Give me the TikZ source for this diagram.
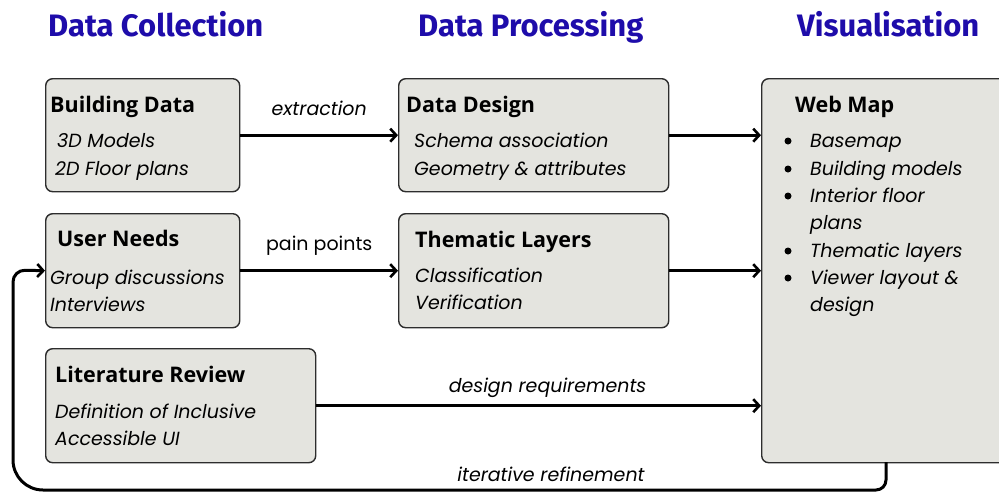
\documentclass[tikz,border=0pt]{standalone}
\usepackage{fontspec}
\setmainfont{Open Sans}
\newfontfamily\headfont{Fira Sans}
\newfontfamily\itemfont{Poppins}
\usetikzlibrary{arrows.meta}
\definecolor{boxfill}{RGB}{228,228,223}
\definecolor{boxline}{RGB}{45,45,45}
\definecolor{headblue}{RGB}{30,12,170}

\begin{document}
\begin{tikzpicture}[x=1pt,y=-1pt,
  panel/.style={draw=boxline, fill=boxfill, line width=1.4pt, rounded corners=7pt,
    inner sep=0pt, anchor=north west},
  head/.style={anchor=base west, inner sep=0pt, text=headblue, font=\headfont\bfseries\fontsize{31}{36}\selectfont},
  btitle/.style={anchor=base west, inner sep=0pt, font=\bfseries\fontsize{21.5}{26}\selectfont},
  bitem/.style={anchor=base west, inner sep=0pt, font=\itemfont\itshape\fontsize{19}{23}\selectfont},
  elabel/.style={anchor=base, inner sep=0pt, font=\itemfont\fontsize{19}{23}\selectfont},
  ilabel/.style={elabel, font=\itemfont\itshape\fontsize{19}{23}\selectfont},
  flow/.style={line width=3pt, -{Straight Barb[length=6pt,width=13pt,line width=2.6pt]}},
  dot/.style={circle, fill=black, inner sep=0pt, minimum size=7pt}
]
\useasboundingbox (0,0) rectangle (999,493);
\clip (0,0) rectangle (999,493);

% column headings
\node[head] (h1) at (48,36) {Data Collection};
\node[head] (h2) at (418,36) {Data Processing};
\node[head] (h3) at (797,36) {Visualisation};

% panels
\node[panel, minimum width=194pt, minimum height=113pt] (bd) at (45,78) {};
\node[panel, minimum width=194pt, minimum height=114pt] (un) at (45,213) {};
\node[panel, minimum width=270pt, minimum height=114pt] (lr) at (45,348) {};
\node[panel, minimum width=270pt, minimum height=113pt] (dd) at (398,78) {};
\node[panel, minimum width=270pt, minimum height=114pt] (tl) at (398,213) {};
\node[panel, minimum width=260pt, minimum height=384pt] (wm) at (761,78) {};

% panel contents
\node[btitle] (bdt) at (50,112) {Building Data};
\node[bitem] (bd1) at (57,147) {3D Models};
\node[bitem] (bd2) at (55,175) {2D Floor plans};

\node[btitle] (unt) at (57,246) {User Needs};
\node[bitem] (un1) at (50,284) {Group discussions};
\node[bitem] (un2) at (50,311) {Interviews};

\node[btitle] (lrt) at (55,382) {Literature Review};
\node[bitem] (lr1) at (55,418) {Definition of Inclusive};
\node[bitem] (lr2) at (55,445) {Accessible UI};

\node[btitle] (ddt) at (406,112) {Data Design};
\node[bitem] (dd1) at (414,147) {Schema association};
\node[bitem] (dd2) at (414,175) {Geometry \& attributes};

\node[btitle] (tlt) at (415,247) {Thematic Layers};
\node[bitem] (tl1) at (415,282) {Classification};
\node[bitem] (tl2) at (415,309) {Verification};

\node[btitle] (wmt) at (795,112) {Web Map};
\foreach \t/\yy/\b [count=\i] in {Basemap/147/1, Building models/175/1, Interior floor/202/1,
    plans/229/0, Thematic layers/257/1, Viewer layout \&/284/1, design/311/0}{
  \node[bitem] (wm\i) at (810,\yy) {\t};
  \ifnum\b=1 \node[dot] (wmd\i) at (788,\yy-6) {};\fi
}

% connectors
\draw[flow] (bd.east) -- (dd.west) node[ilabel, midway, yshift=20pt] (l1) {extraction};
\draw[flow] (dd.east) -- (dd.east -| wm.west);
\draw[flow] (un.east) -- (tl.west) node[elabel, midway, yshift=20pt] (l2) {pain points};
\draw[flow] (tl.east) -- (tl.east -| wm.west);
\draw[flow] (lr.east) -- (lr.east -| wm.west) node[ilabel, pos=0.52, yshift=13pt] (l3) {design requirements};

% feedback loop back to user needs
\coordinate (fb0) at (886,462);
\coordinate (fb1) at (886,490);
\coordinate (fb2) at (13,490);
\coordinate (fb3) at (13,270);
\draw[flow, rounded corners=10pt] (fb0) -- (fb1) [rounded corners=30pt] -- (fb2) [rounded corners=12pt] -- (fb3) -- (un.west);
\node[ilabel] (l4) at (551,481) {iterative refinement};
\end{tikzpicture}
\end{document}
